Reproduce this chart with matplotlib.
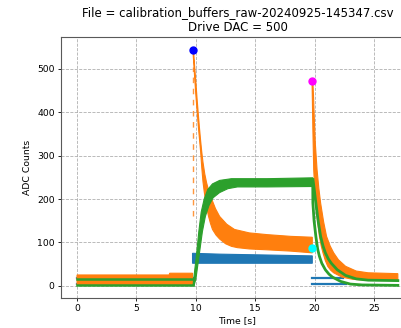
import numpy as np
import matplotlib
matplotlib.use("Agg")
import matplotlib.pyplot as plt

TITLE = "File = calibration_buffers_raw-20240925-145347.csv\nDrive DAC = 500"

BLUE, ORANGE, GREEN = "#1f77b4", "#ff7f0e", "#2ca02c"

# ---- channel A (blue) ----
blue_pre_t = [0.0, 9.72]
blue_pre_hi = [18, 18]
blue_pre_lo = [4, 4]
blue_mid_t = [9.72, 12.0, 16.0, 19.8]
blue_mid_hi = [75, 73, 71, 69]
blue_mid_lo = [52, 52, 52, 52]
blue_post_hi_t = [19.8, 22.4]
blue_post_hi = [18, 18]
blue_post_lo_t = [19.8, 22.6]
blue_post_lo = [4, 4]

# ---- channel B (orange) ----
orange_base_t = [0.0, 7.75, 7.8, 9.72]
orange_base_hi = [25, 25, 29, 29]
orange_base_lo = [2, 2, 2, 2]
orange_gap_t = [9.73, 9.73]
orange_gap_y = [160, 505]
orange1_hi_t = [9.80, 9.9, 10.0, 10.1, 10.2, 10.3, 10.4, 10.5, 10.6, 10.75, 10.9, 11.1,
                11.35, 11.65, 12.0, 12.6, 13.25, 14.5, 16.0, 18.0, 19.8]
orange1_hi = [545, 505, 470, 432, 398, 365, 335, 308, 285, 258, 238, 217,
              199, 178, 160, 142, 130, 122, 118, 114, 112]
orange1_lo_t = [9.76, 9.9, 10.0, 10.1, 10.2, 10.3, 10.4, 10.5, 10.6, 10.7, 10.8, 10.93,
                11.07, 11.23, 11.4, 11.7, 12.0, 12.5, 13.0, 13.5, 14.5, 16.0, 18.0, 19.8]
orange1_lo = [540, 480, 440, 405, 370, 340, 310, 272, 240, 218, 199, 178,
              160, 144, 130, 117, 108, 97, 91, 88, 85, 83, 80, 76]
orange2_hi_t = [19.84, 19.9, 19.95, 20.05, 20.2, 20.35, 20.5, 20.75, 21.0, 21.3, 21.6,
                22.0, 22.6, 23.5, 24.5, 27.0]
orange2_hi = [474, 440, 400, 330, 268, 225, 191, 148, 114, 92, 76,
              60, 45, 34, 30, 28]
orange2_lo_t = [19.78, 19.85, 19.92, 20.0, 20.1, 20.25, 20.4, 20.55, 20.7, 20.9, 21.1,
                21.35, 21.6, 22.3, 23.2, 24.5, 27.0]
orange2_lo = [470, 360, 268, 225, 191, 148, 114, 92, 76, 58, 45,
              36, 30, 20, 15, 13, 13]

# ---- channel C (green) ----
green_base_t = [0.0, 9.78]
green_base_hi = [15, 15]
green_base_lo = [3, 3]
green_hi_t = [9.76, 9.9, 10.05, 10.25, 10.45, 10.7, 11.0, 11.4, 12.0, 13.0, 16.0, 19.85]
green_hi = [0, 35, 70, 125, 170, 200, 222, 235, 243, 247, 247, 249]
green_lo_t = [9.84, 10.0, 10.15, 10.35, 10.55, 10.8, 11.1, 11.45, 12.0, 12.7, 13.5, 16.0, 19.85]
green_lo = [0, 15, 45, 85, 125, 160, 185, 203, 215, 224, 228, 228, 229]
green_a_t = [19.86, 19.95, 20.1, 20.3, 20.5, 20.7, 20.9, 21.15, 21.4, 21.9, 22.6, 23.5, 24.5, 27.0]
green_a = [245, 225, 191, 148, 114, 92, 76, 62, 52, 37, 24, 16, 13, 12]
green_b_t = [19.84, 19.85, 19.95, 20.1, 20.25, 20.4, 20.6, 20.9, 21.2, 21.5, 22.2, 23.0, 24.0, 27.0]
green_b = [228, 191, 150, 114, 85, 68, 52, 37, 27, 20, 10, 4, 2, 1]

# peak / level markers
peak_a = (9.75, 543)
peak_b = (19.8, 473)
level_c = (19.8, 87)


def band(ax, t_hi, hi, t_lo, lo, color, z):
    xs = np.r_[t_hi, t_lo[::-1]]
    ys = np.r_[hi, lo[::-1]]
    ax.fill(xs, ys, color=color, lw=0.8, zorder=z)


fig = plt.figure(figsize=(4.01, 3.28), dpi=100)
ax = fig.add_axes([61 / 401, 0.0924, 0.88, 0.7957])

# blue
ax.plot(blue_pre_t, blue_pre_hi, color=BLUE, lw=1.6, zorder=2)
ax.plot(blue_pre_t, blue_pre_lo, color=BLUE, lw=1.6, zorder=2)
band(ax, blue_mid_t, blue_mid_hi, blue_mid_t, blue_mid_lo, BLUE, 2)
ax.plot(blue_post_hi_t, blue_post_hi, color=BLUE, lw=1.6, zorder=2)
ax.plot(blue_post_lo_t, blue_post_lo, color=BLUE, lw=1.6, zorder=2)

# orange
band(ax, orange_base_t, orange_base_hi, orange_base_t, orange_base_lo, ORANGE, 3)
ax.plot(orange_gap_t, orange_gap_y, color=ORANGE, lw=1.0, ls=(0, (4, 4)), alpha=0.8, zorder=3)
band(ax, orange1_hi_t, orange1_hi, orange1_lo_t, orange1_lo, ORANGE, 3)
band(ax, orange2_hi_t, orange2_hi, orange2_lo_t, orange2_lo, ORANGE, 3)

# green
ax.plot(green_base_t, green_base_hi, color=GREEN, lw=1.8, zorder=4)
ax.plot(green_base_t, green_base_lo, color=GREEN, lw=1.8, zorder=4)
band(ax, green_hi_t, green_hi, green_lo_t, green_lo, GREEN, 4)
ax.plot(green_a_t, green_a, color=GREEN, lw=2.0, zorder=4)
ax.plot(green_b_t, green_b, color=GREEN, lw=2.0, zorder=4)

ax.plot(*peak_a, "o", color="blue", ms=5, zorder=5)
ax.plot(*peak_b, "o", color="magenta", ms=5, zorder=5)
ax.plot(*level_c, "o", color="cyan", ms=5, zorder=5)

ax.set_xlim(-1.35, 28.35)
ax.set_ylim(-27.4, 574.4)
ax.set_xticks([0, 5, 10, 15, 20, 25])
ax.set_yticks([0, 100, 200, 300, 400, 500])
ax.grid(True, ls="--", color="#b0b0b0", lw=0.6)
ax.set_axisbelow(True)
ax.tick_params(labelsize=6.7, length=2.5, width=0.6, pad=2)
for s in ax.spines.values():
    s.set_color("0.35")
    s.set_linewidth(0.8)
ax.set_xlabel("Time [s]", fontsize=6.7, labelpad=2)
ax.set_ylabel("ADC Counts", fontsize=6.7, labelpad=4)
ax.set_title(TITLE, fontsize=8.5, pad=4)

fig.savefig("out.png", dpi=100)
